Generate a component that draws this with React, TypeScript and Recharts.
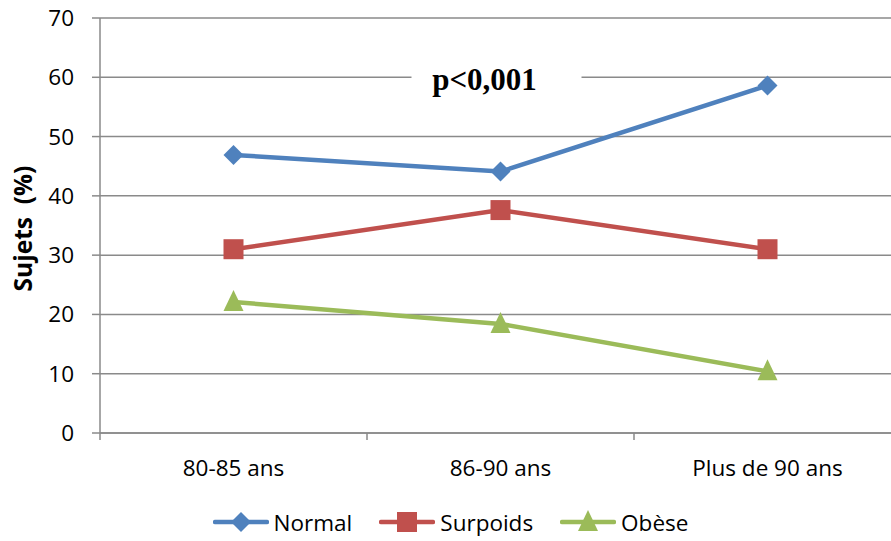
import React from "react";
import {
  LineChart,
  Line,
  XAxis,
  YAxis,
  CartesianGrid,
  Legend,
  ReferenceDot,
} from "recharts";

const categories = ["80-85 ans", "86-90 ans", "Plus de 90 ans"];
const normal = [46.9, 44.1, 58.6];
const surpoids = [31.0, 37.6, 31.0];
const obese = [22.1, 18.4, 10.4];
const yTicks = [0, 10, 20, 30, 40, 50, 60, 70];

const SERIES = [
  { key: "normal", name: "Normal", color: "#4F81BD", shape: "diamond" },
  { key: "surpoids", name: "Surpoids", color: "#C0504D", shape: "square" },
  { key: "obese", name: "Obèse", color: "#9BBB59", shape: "triangle" },
];

const data = categories.map((c, i) => ({
  cat: c,
  normal: normal[i],
  surpoids: surpoids[i],
  obese: obese[i],
}));

const FONT = "'Open Sans', 'DejaVu Sans', sans-serif";
const GRID = "#8a8a8a";
const TICK_SIZE = 7;
const TICK_MARGIN = 20;

function marker(shape: string, cx: number, cy: number, color: string, key?: any) {
  if (shape === "diamond") {
    const r = 10;
    return (
      <path
        key={key}
        d={`M${cx},${cy - r}L${cx + r},${cy}L${cx},${cy + r}L${cx - r},${cy}Z`}
        fill={color}
      />
    );
  }
  if (shape === "square") {
    return <rect key={key} x={cx - 10} y={cy - 10} width={20} height={20} fill={color} />;
  }
  return (
    <path
      key={key}
      d={`M${cx},${cy - 12}L${cx + 10},${cy + 9}L${cx - 10},${cy + 9}Z`}
      fill={color}
    />
  );
}

const makeDot = (shape: string, color: string) => (props: any) => {
  const { cx, cy, index } = props;
  if (cx == null || cy == null) return <g key={`d-${index}`} />;
  return marker(shape, cx, cy, color, `d-${shape}-${index}`);
};

const XTick = (props: any) => {
  const { x, y, payload } = props;
  const off = payload && payload.offset ? payload.offset : 133.5;
  const axisY = y - TICK_SIZE - TICK_MARGIN;
  return (
    <g>
      <line x1={x - off} y1={axisY} x2={x - off} y2={axisY + TICK_SIZE} stroke={GRID} strokeWidth={1.5} />
      <text x={x} y={y} dy="0.71em" textAnchor="middle" fontSize={22.5} fontFamily={FONT} fill="#000">
        {payload.value}
      </text>
    </g>
  );
};

const LegendContent = () => (
  <div
    style={{
      height: 30,
      display: "flex",
      justifyContent: "center",
      alignItems: "center",
      fontFamily: FONT,
      fontSize: 22.5,
      color: "#000",
    }}
  >
    {SERIES.map((s, i) => (
      <div key={s.key} style={{ display: "flex", alignItems: "center", marginLeft: i === 0 ? 0 : 27 }}>
        <svg width={56} height={26} style={{ marginRight: 5 }}>
          <line x1={2} y1={13} x2={54} y2={13} stroke={s.color} strokeWidth={4.5} strokeLinecap="round" />
          {marker(s.shape, 28, 13, s.color)}
        </svg>
        <span>{s.name}</span>
      </div>
    ))}
  </div>
);

const PLabel = (props: any) => {
  const { cx, cy } = props;
  return (
    <g>
      <rect x={cx - 89} y={cy - 6} width={170} height={12} fill="#fff" />
      <text
        x={cx - 16}
        y={cy + 13}
        textAnchor="middle"
        fontFamily="'Liberation Serif', 'Times New Roman', serif"
        fontWeight="bold"
        fontSize={31}
        fill="#000"
      >
        p&lt;0,001
      </text>
    </g>
  );
};

export default function App() {
  return (
    <div style={{ position: "fixed", top: 0, left: 0, width: 891, height: 541, overflow: "hidden", background: "#fff" }}>
      <LineChart width={901} height={541} data={data} margin={{ top: 18, right: 0, left: 0, bottom: 4 }}>
        <CartesianGrid vertical={false} stroke={GRID} strokeWidth={1.5} />
        <XAxis
          dataKey="cat"
          scale="band"
          stroke={GRID}
          strokeWidth={1.5}
          tickLine={false}
          tickSize={TICK_SIZE}
          tickMargin={TICK_MARGIN}
          height={74}
          tick={<XTick />}
          interval={0}
        />
        <YAxis
          domain={[0, 70]}
          ticks={yTicks}
          width={100}
          stroke={GRID}
          strokeWidth={1.5}
          tickSize={8}
          tickMargin={18}
          tick={{ fill: "#000", fontSize: 22.5, fontFamily: FONT }}
          label={{
            content: (p: any) => {
              const vb = p.viewBox || {};
              const cy = (vb.y || 18) + (vb.height || 415) / 2 + 3;
              return (
                <text
                  x={22}
                  y={cy}
                  transform={`rotate(-90 22 ${cy})`}
                  textAnchor="middle"
                  dominantBaseline="central"
                  fontFamily={FONT}
                  fontWeight="bold"
                  fontSize={24.5}
                  fill="#000"
                  style={{ whiteSpace: "pre" }}
                >
                  Sujets  (%)
                </text>
              );
            },
          }}
        />
        <Legend verticalAlign="bottom" content={<LegendContent />} />
        {SERIES.map((s) => (
          <Line
            key={s.key}
            dataKey={s.key}
            name={s.name}
            stroke={s.color}
            strokeWidth={4.5}
            dot={makeDot(s.shape, s.color)}
            activeDot={false}
            isAnimationActive={false}
          />
        ))}
        <ReferenceDot x="86-90 ans" y={60} shape={<PLabel />} />
      </LineChart>
    </div>
  );
}
